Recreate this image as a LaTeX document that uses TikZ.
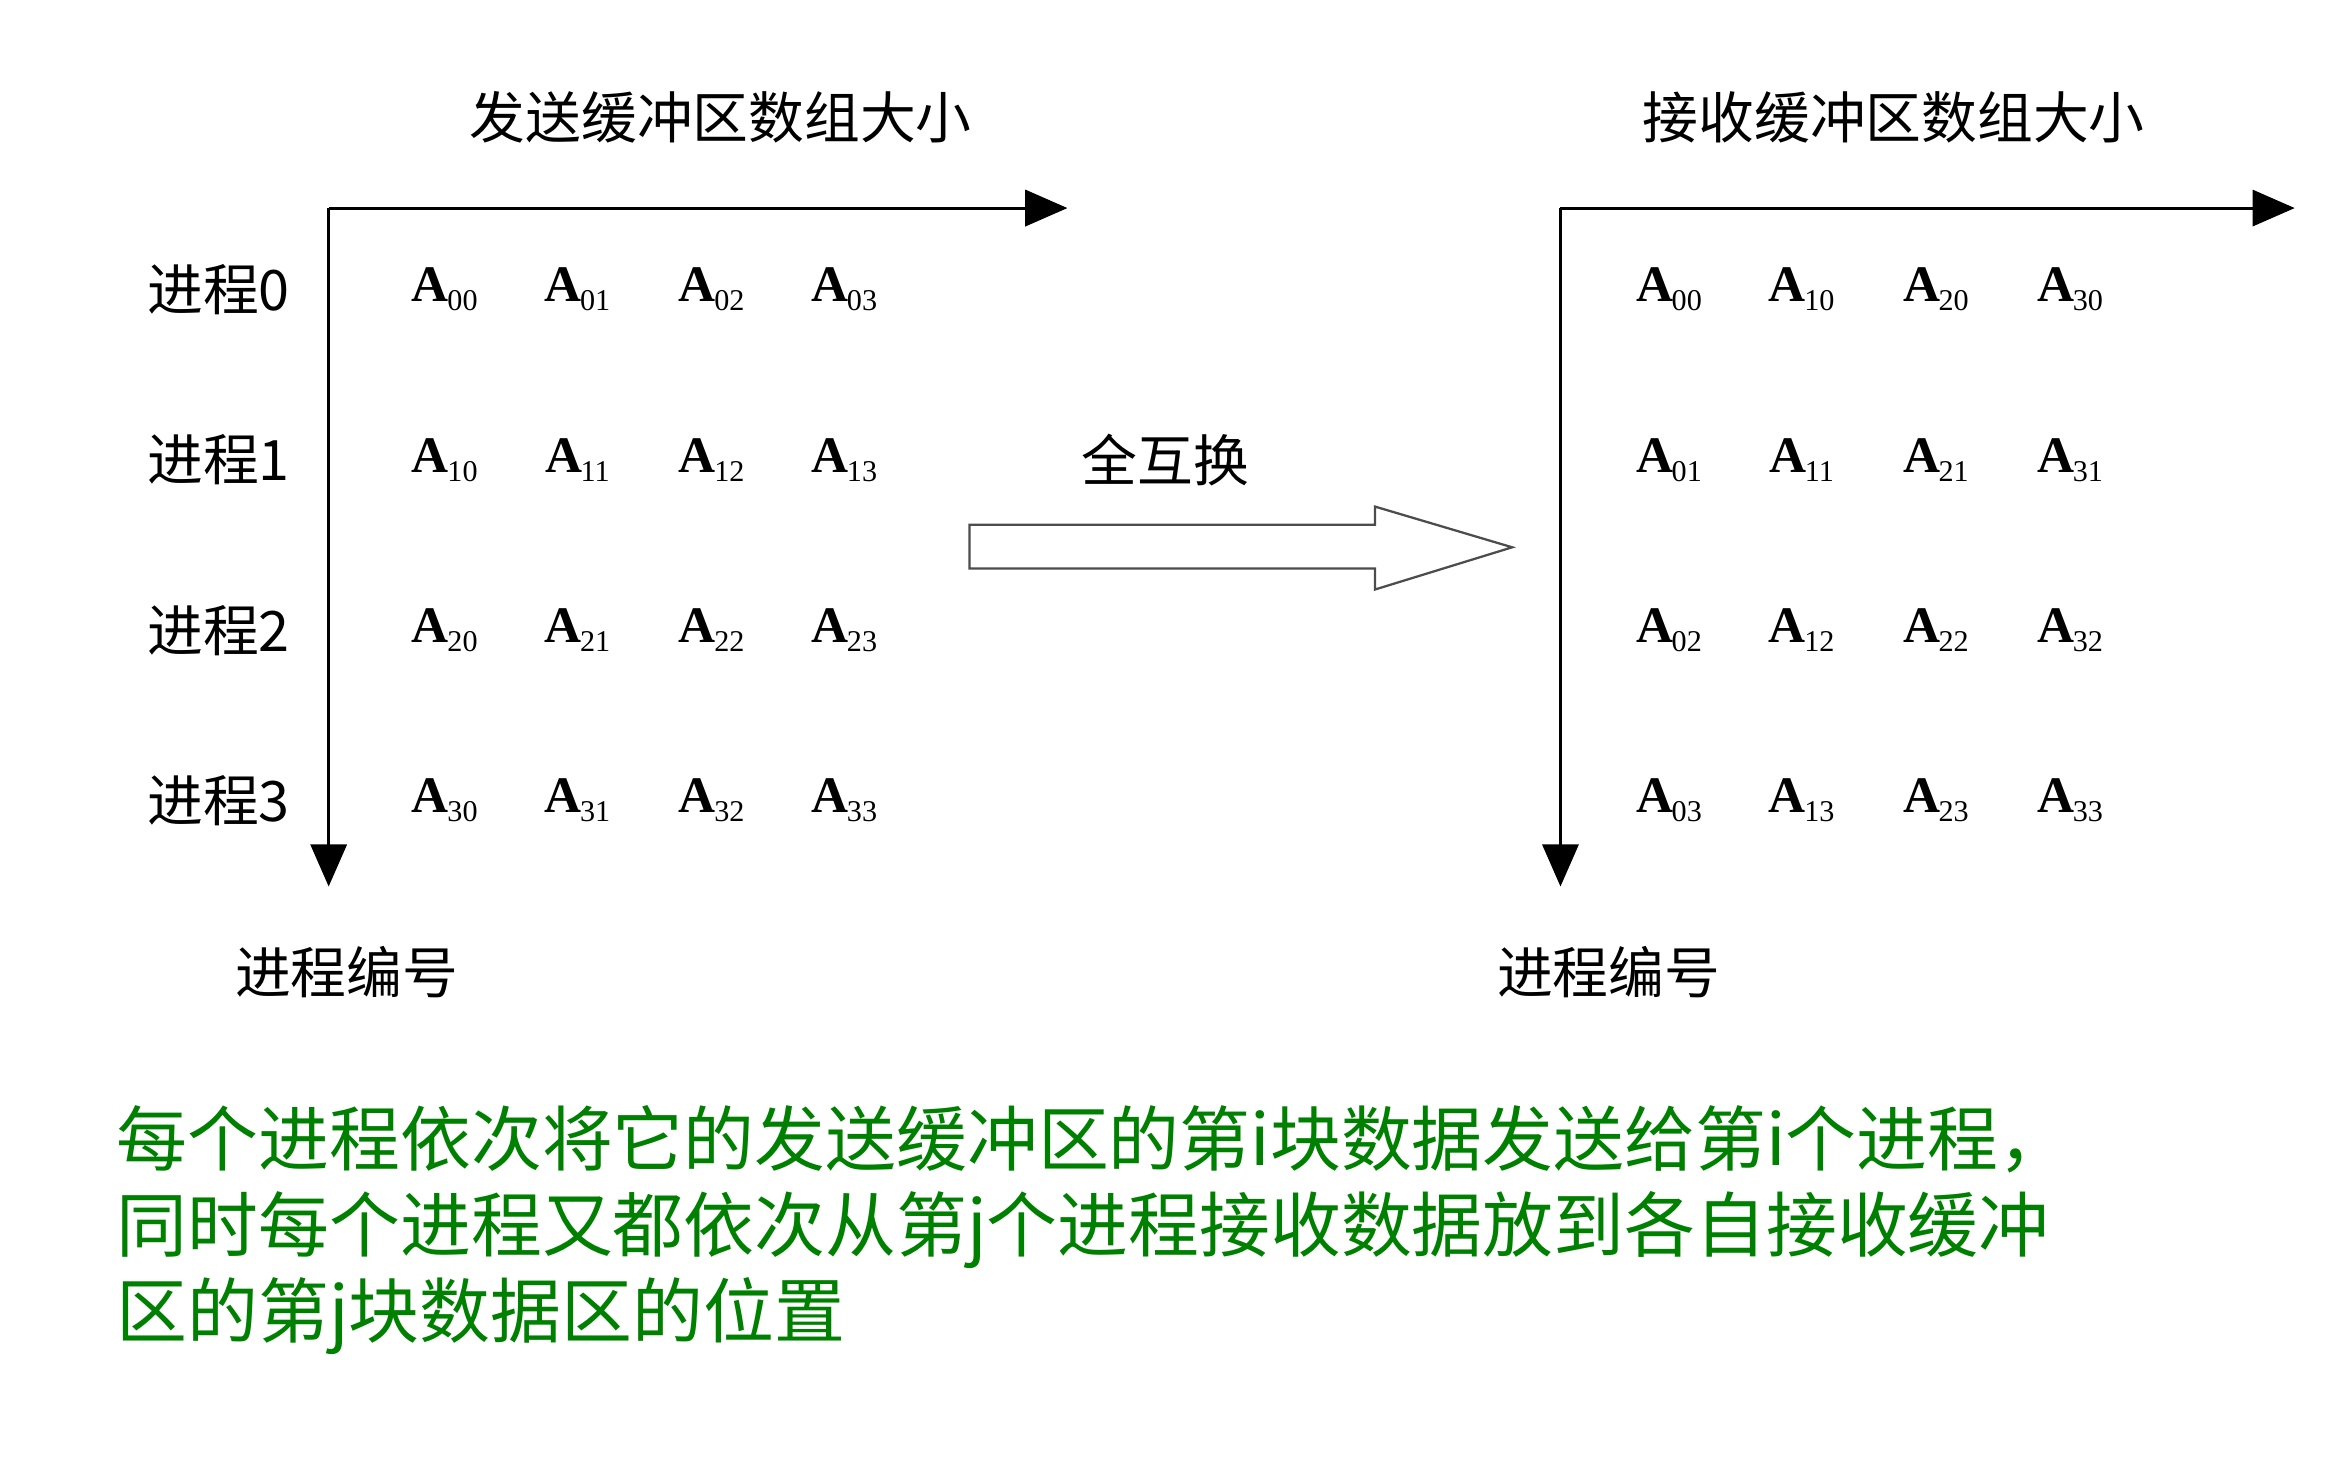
\documentclass[tikz,border=0pt]{standalone}
\usepackage{fontspec}
\usetikzlibrary{arrows.meta}
\setmainfont{Liberation Serif}
\newfontfamily\cjk{Noto Sans CJK SC}
\begin{document}
\begin{tikzpicture}[x=1pt,y=-1pt,
  ax/.style={line width=2pt,-{Triangle[length=28pt,width=24pt]}},
  lab/.style={font=\cjk\fontsize{37}{40}\selectfont},
  ent/.style={font=\fontsize{34}{36}\selectfont\bfseries},
  grn/.style={font=\cjk\fontsize{47}{57}\selectfont,text=green!50!black,align=left,anchor=north west}]
\useasboundingbox (0,0) rectangle (1560,966);
\newcommand{\myent}[2]{A\kern-1pt\raisebox{-6pt}{\fontsize{20}{20}\selectfont\mdseries#1#2}}
% left axes
\coordinate (lc) at (218,138);
\coordinate (lx) at (708,138);
\coordinate (ly) at (218,588);
\draw[ax] (lc) -- (lx);
\draw[ax] (lc) -- (ly);
\node[lab] (lt) at (478,78) {发送缓冲区数组大小};
\node[lab] (lb) at (230,645) {进程编号};
% right axes
\coordinate (rc) at (1035,138);
\coordinate (rx) at (1522,138);
\coordinate (ry) at (1035,588);
\draw[ax] (rc) -- (rx);
\draw[ax] (rc) -- (ry);
\node[lab] (rt) at (1256,78) {接收缓冲区数组大小};
\node[lab] (rb) at (1067,645) {进程编号};
\foreach \i/\y in {0/192,1/305,2/418,3/531}{
  \node[lab] (p\i) at (145,\y) {进程\i};
  \foreach \j/\x/\xr in {0/295/1107,1/383/1195,2/472/1284,3/560/1373}{
    \node[ent] (s\i\j) at (\x,\y) {\myent{\i}{\j}};
    \node[ent] (r\i\j) at (\xr,\y) {\myent{\j}{\i}};
  }
}
% hollow arrow
\draw[line width=1.5pt,draw=black!70,fill=white] (643,348) -- (912,348) -- (912,336) -- (1003,363) -- (912,391) -- (912,377) -- (643,377) -- cycle;
\node[lab] (ex) at (773,305) {全互换};
\node[grn] (txt) at (74,730) {每个进程依次将它的发送缓冲区的第i块数据发送给第i个进程，\\同时每个进程又都依次从第j个进程接收数据放到各自接收缓冲\\区的第j块数据区的位置};
\end{tikzpicture}
\end{document}
